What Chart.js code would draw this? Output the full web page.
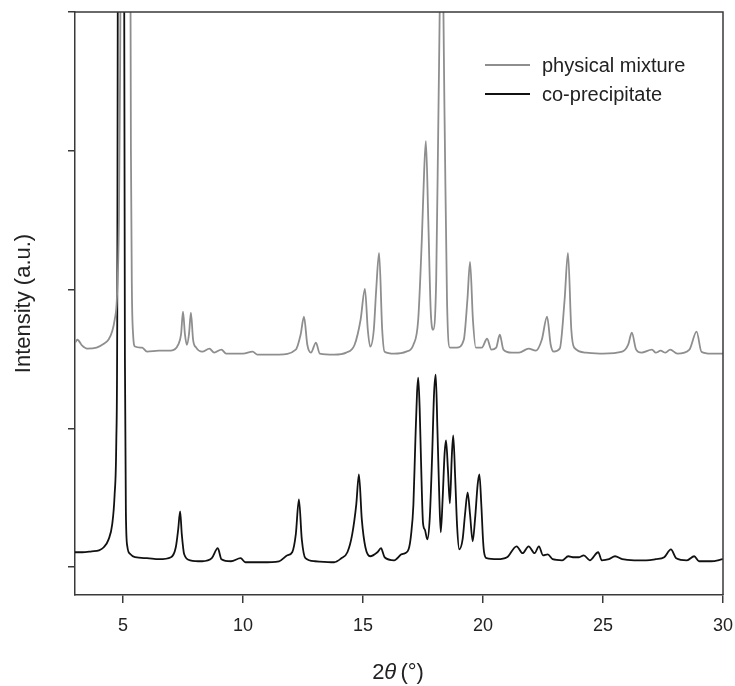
<!DOCTYPE html>
<html>
<head>
<meta charset="utf-8">
<script src="https://cdn.jsdelivr.net/npm/chart.js@4.4.1/dist/chart.umd.min.js"></script>
<style>
  body { margin: 0; background: #fff; }
</style>
</head>
<body>
<canvas id="xrd" width="735" height="686"></canvas>
<script>
// 2theta positions and intensities (arbitrary units)
const mixTheta = [3.0, 3.1, 3.3, 3.5, 3.9, 4.2, 4.4, 4.55, 4.65, 4.75, 4.83, 4.88, 4.92, 5.1, 5.3, 5.33, 5.37, 5.42, 5.5, 5.8, 6.0,
  6.5, 7.0, 7.3, 7.42, 7.5, 7.58, 7.66, 7.75, 7.83, 7.92, 8.05, 8.3, 8.6, 8.8, 9.1, 9.3, 10.0, 10.4, 10.6, 11.5, 12.2, 12.4, 12.54, 12.68,
  12.83, 13.04, 13.2, 13.8, 14.3, 14.65, 14.9, 15.08, 15.2, 15.3, 15.45, 15.55, 15.67, 15.8, 15.9, 16.3, 16.8, 17.1, 17.3, 17.45,
  17.55, 17.62, 17.72, 17.82, 17.92, 18.05, 18.15, 18.28, 18.4, 18.5, 18.62, 18.9, 19.2, 19.35, 19.46, 19.58, 19.7, 19.95, 20.17, 20.35,
  20.55, 20.7, 20.85, 21.2, 21.5, 21.9, 22.2, 22.45, 22.67, 22.82, 22.95, 23.2, 23.4, 23.54, 23.68, 23.8, 24.3, 25.0, 25.8, 26.05,
  26.2, 26.38, 26.6, 27.04, 27.2, 27.4, 27.6, 27.8, 28.1, 28.6, 28.9, 29.1, 29.5, 30.0];
const mixIntensity = [1618, 1639, 1596, 1575, 1582, 1610, 1640, 1700, 1780, 1950, 2500, 3600, 5000, 14000, 5000, 3000, 2000, 1680, 1590, 1582, 1553,
  1560, 1560, 1603, 1680, 1841, 1680, 1603, 1680, 1834, 1640, 1582, 1553, 1575, 1546, 1568, 1539, 1539, 1553, 1532, 1532, 1568, 1675, 1805, 1603,
  1546, 1618, 1539, 1532, 1546, 1603, 1783, 2006, 1711, 1589, 1711, 1999, 2265, 1711, 1553, 1539, 1553, 1603, 1783, 2358,
  2862, 3070, 2502, 1855, 1711, 2071, 3365, 4800, 3221, 1927, 1582, 1582, 1639, 1927, 2200, 1783, 1582, 1582, 1646, 1568,
  1582, 1675, 1568, 1546, 1546, 1575, 1560, 1639, 1805, 1603, 1553, 1575, 1927, 2265, 1711, 1582, 1546, 1539, 1553, 1603,
  1690, 1568, 1546, 1568, 1546, 1560, 1546, 1568, 1539, 1568, 1697, 1553, 1539, 1539];

const copTheta = [3.0, 3.3, 3.7, 4.0, 4.2, 4.4, 4.55, 4.65, 4.72, 4.76, 4.79, 4.93, 5.04, 5.08, 5.12, 5.18, 5.3, 5.5, 6.0, 6.5, 7.0,
  7.2, 7.3, 7.38, 7.45, 7.55, 7.8, 8.3, 8.7, 8.95, 9.1, 9.5, 9.9, 10.1, 10.8, 11.5, 11.85, 12.05, 12.2, 12.33, 12.45,
  12.6, 13.0, 13.8, 14.1, 14.35, 14.55, 14.72, 14.83, 14.95, 15.1, 15.3, 15.6, 15.75, 15.9, 16.3, 16.6, 16.75, 16.9, 17.0, 17.1,
  17.18, 17.25, 17.3, 17.36, 17.42, 17.5, 17.58, 17.68, 17.78, 17.88, 17.96, 18.03, 18.1, 18.18, 18.24, 18.32, 18.4, 18.46, 18.54, 18.62,
  18.7, 18.76, 18.84, 18.92, 19.01, 19.15, 19.25, 19.36, 19.46, 19.57, 19.67, 19.78, 19.85, 19.93, 20.0, 20.04, 20.15,
  20.6, 21.0, 21.4, 21.65, 21.9, 22.15, 22.33, 22.5, 22.7, 22.9, 23.3, 23.55, 23.8, 24.0,
  24.2, 24.45, 24.8, 24.95, 25.25, 25.5, 25.8, 26.3, 26.8, 27.2, 27.55, 27.83, 28.05, 28.5, 28.8, 29.0, 29.5, 30.0];
const copIntensity = [108, 108, 115, 122, 144, 201, 309, 520, 900, 1800, 5000, 20000, 5000, 1500, 400, 150, 95, 72, 65, 58, 72,
  144, 273, 403, 237, 93, 50, 43, 65, 137, 58, 43, 65, 36, 36, 43, 86, 108, 237, 489, 201,
  65, 43, 36, 65, 108, 237, 453, 669, 345, 144, 79, 108, 137, 72, 50, 93, 101, 129, 230, 450,
  900, 1250, 1366, 1150, 750, 320, 270, 201, 350, 800, 1250, 1388, 1000, 500, 252, 500, 820, 913, 700, 460,
  800, 949, 650, 300, 129, 200, 380, 539, 380, 187, 350, 600, 669, 450, 200, 115, 65,
  58, 72, 151, 101, 151, 101, 151, 86, 93, 58, 50, 79, 72, 72,
  86, 50, 108, 50, 58, 79, 58, 50, 50, 58, 72, 129, 65, 50, 79, 43, 43, 58];

const xTicks = [5, 10, 15, 20, 25, 30];
const yTicks = [0, 1000, 2000, 3000, 4000];

const FONT = "'Liberation Sans', Arial, Helvetica, sans-serif";
const AXIS = '#3a3a3a';

function toPoints(xs, ys) {
  return xs.map((x, i) => ({ x: x, y: ys[i] }));
}

// frame, legend and axis titles drawn on top
const decorations = {
  id: 'decorations',
  afterDraw(chart) {
    const ctx = chart.ctx;
    const a = chart.chartArea;
    ctx.save();
    ctx.strokeStyle = AXIS;
    ctx.lineWidth = 1.5;
    ctx.beginPath();
    ctx.moveTo(a.left, a.top);
    ctx.lineTo(a.right, a.top);
    ctx.lineTo(a.right, a.bottom);
    ctx.stroke();

    // legend
    const items = chart.data.datasets;
    ctx.font = '20px ' + FONT;
    ctx.textBaseline = 'middle';
    ctx.fillStyle = '#222';
    items.forEach((ds, i) => {
      const y = 65 + i * 29;
      ctx.strokeStyle = ds.borderColor;
      ctx.lineWidth = 2;
      ctx.beginPath();
      ctx.moveTo(485, y);
      ctx.lineTo(530, y);
      ctx.stroke();
      ctx.fillText(ds.label, 542, y + 1);
    });

    // y title
    ctx.font = '22px ' + FONT;
    ctx.textAlign = 'center';
    ctx.translate(24, (a.top + a.bottom) / 2);
    ctx.rotate(-Math.PI / 2);
    ctx.fillText('Intensity (a.u.)', 0, 0);
    ctx.setTransform(1, 0, 0, 1, 0, 0);

    // x title with italic theta
    const cx = (a.left + a.right) / 2;
    const cy = 673;
    const p1 = '2', p2 = '\u03B8', p3 = ' (\u00B0)';
    ctx.font = '22px ' + FONT;
    const w1 = ctx.measureText(p1).width;
    const w3 = ctx.measureText(p3).width;
    ctx.font = 'italic 22px ' + FONT;
    const w2 = ctx.measureText(p2).width;
    let x = cx - (w1 + w2 + w3) / 2;
    ctx.textAlign = 'left';
    ctx.font = '22px ' + FONT;
    ctx.fillText(p1, x, cy);
    x += w1;
    ctx.font = 'italic 22px ' + FONT;
    ctx.fillText(p2, x, cy);
    x += w2;
    ctx.font = '22px ' + FONT;
    ctx.fillText(p3, x - 2, cy);
    ctx.restore();
  }
};

const ctx = document.getElementById('xrd').getContext('2d');
const xrdChart = new Chart(ctx, {
  type: 'line',
  data: {
    datasets: [{
      label: 'physical mixture',
      data: toPoints(mixTheta, mixIntensity),
      borderColor: '#8e8e8e',
      borderWidth: 1.8,
      pointRadius: 0,
      cubicInterpolationMode: 'monotone'
    }, {
      label: 'co-precipitate',
      data: toPoints(copTheta, copIntensity),
      borderColor: '#111111',
      borderWidth: 1.8,
      pointRadius: 0,
      cubicInterpolationMode: 'monotone'
    }]
  },
  options: {
    responsive: false,
    animation: false,
    layout: { padding: { top: 12, right: 12, left: 0, bottom: 0 } },
    plugins: {
      legend: { display: false },
      tooltip: { enabled: false }
    },
    scales: {
      x: {
        type: 'linear',
        min: 3,
        max: 30,
        afterBuildTicks: s => { s.ticks = xTicks.map(v => ({ value: v })); },
        afterFit: s => { s.height = 91; s.paddingLeft = 0; s.paddingRight = 0; },
        grid: { drawOnChartArea: false, tickLength: 8, color: AXIS, lineWidth: 1.5 },
        border: { color: AXIS, width: 1.5 },
        ticks: { color: '#222', font: { family: FONT, size: 18 }, padding: 12, maxRotation: 0, autoSkip: false }
      },
      y: {
        min: -200,
        max: 4000,
        afterBuildTicks: s => { s.ticks = yTicks.map(v => ({ value: v })); },
        afterFit: s => { s.width = 75; },
        grid: { drawOnChartArea: false, tickLength: 7, color: AXIS, lineWidth: 1.5 },
        border: { color: AXIS, width: 1.5 },
        ticks: { display: false }
      }
    }
  },
  plugins: [decorations]
});
</script>
</body>
</html>
